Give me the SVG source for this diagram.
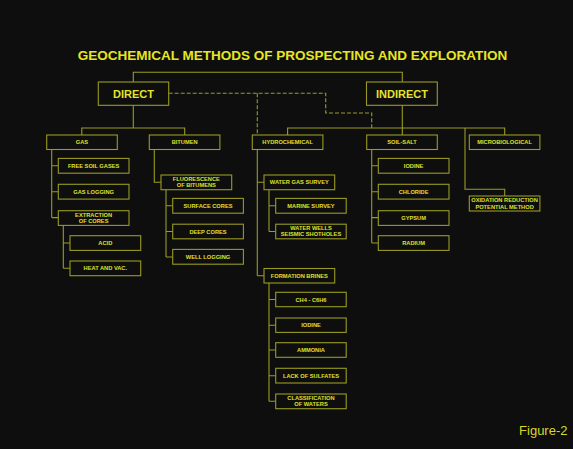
<svg xmlns="http://www.w3.org/2000/svg" width="573" height="449" viewBox="0 0 573 449">
<style>
.bx{fill:#0e0e0e;stroke:#9a9a24;stroke-width:1.1}
.ln{fill:none;stroke:#9a9a24;stroke-width:1.1}
.ds{fill:none;stroke:#9a9a24;stroke-width:1.1;stroke-dasharray:4 2}
.t{font-family:"Liberation Sans",Arial,sans-serif;font-weight:bold;font-size:5.7px;fill:#e0e02a;text-anchor:middle}
.big{font-family:"Liberation Sans",Arial,sans-serif;font-weight:bold;font-size:11px;fill:#e4e42a;text-anchor:middle}
</style>
<rect width="573" height="449" fill="#0e0e0e"/>
<text x="292.5" y="60" font-family="Liberation Sans, Arial, sans-serif" font-weight="bold" font-size="13.5" fill="#e6e622" text-anchor="middle">GEOCHEMICAL METHODS OF PROSPECTING AND EXPLORATION</text>
<text x="567.5" y="435" font-family="Liberation Sans, Arial, sans-serif" font-size="13" fill="#d8d82a" text-anchor="end">Figure-2</text>

<g id="connectors">
<path class="ln" d="M133.3,82 V72.3 H402.3 V82"/>
<path class="ln" d="M133.3,105.3 V128 M81.8,135 V128 H184.7 V135"/>
<path class="ln" d="M402.3,105.3 V135 M287.6,135 V128 H504.7 V135 M465,128 V189.3 H504.7 V196"/>
<path class="ds" d="M168.7,93.3 H325.7 V113 H371.7 V128"/>
<path class="ds" d="M257.3,93.3 V135"/>
<!-- GAS -->
<path class="ln" d="M51.7,149.5 V217.6 M51.7,165.8 H58.3 M51.7,191.7 H58.3 M51.7,217.6 H58.3"/>
<path class="ln" d="M63.3,225.4 V268.3 M63.3,243 H70 M63.3,268.3 H70"/>
<!-- BITUMEN -->
<path class="ln" d="M154.3,149.5 V182.3 H161"/>
<path class="ln" d="M166,189.7 V257 M166,205.8 H172.7 M166,231.5 H172.7 M166,257 H172.7"/>
<!-- HYDRO -->
<path class="ln" d="M257.3,149.5 V275.7 M257.3,182.3 H264 M257.3,275.7 H264"/>
<path class="ln" d="M269,189.7 V231.5 M269,205.8 H275.7 M269,231.5 H275.7"/>
<path class="ln" d="M269,283 V401.3 M269,299.5 H275.7 M269,325.2 H275.7 M269,350 H275.7 M269,375.7 H275.7 M269,401.3 H275.7"/>
<!-- SOIL-SALT -->
<path class="ln" d="M371.7,149.5 V243 M371.7,165.8 H378.3 M371.7,191.7 H378.3 M371.7,217.6 H378.3 M371.7,243 H378.3"/>
</g>

<g id="direct"><rect class="bx" x="98.3" y="82" width="70.4" height="23.3"/><text class="big" x="133.5" y="97.5">DIRECT</text></g>
<g id="indirect"><rect class="bx" x="366.5" y="82" width="70.8" height="23.3"/><text class="big" x="402" y="97.5">INDIRECT</text></g>

<g id="gas"><rect class="bx" x="46.7" y="135" width="70.6" height="14.5"/><text class="t" x="82" y="144.3">GAS</text></g>
<g id="bitumen"><rect class="bx" x="149.3" y="135" width="70.6" height="14.5"/><text class="t" x="184.6" y="144.3">BITUMEN</text></g>
<g id="hydrochemical"><rect class="bx" x="252.3" y="135" width="70.6" height="14.5"/><text class="t" x="287.6" y="144.3">HYDROCHEMICAL</text></g>
<g id="soil-salt"><rect class="bx" x="366.7" y="135" width="70.6" height="14.5"/><text class="t" x="402" y="144.3">SOIL-SALT</text></g>
<g id="microbiological"><rect class="bx" x="469.3" y="135" width="70.6" height="14.5"/><text class="t" x="504.6" y="144.3">MICROBIOLOGICAL</text></g>

<g id="free-soil-gases"><rect class="bx" x="58.3" y="158.4" width="70.7" height="14.8"/><text class="t" x="93.6" y="167.8">FREE SOIL GASES</text></g>
<g id="gas-logging"><rect class="bx" x="58.3" y="184.3" width="70.7" height="14.8"/><text class="t" x="93.6" y="193.7">GAS LOGGING</text></g>
<g id="extraction"><rect class="bx" x="58.3" y="210.7" width="70.7" height="14.7"/><text class="t" x="93.6" y="217">EXTRACTION</text><text class="t" x="93.6" y="223">OF CORES</text></g>
<g id="acid"><rect class="bx" x="70" y="235.7" width="70.7" height="14.7"/><text class="t" x="105.3" y="245">ACID</text></g>
<g id="heat"><rect class="bx" x="70" y="261" width="70.7" height="14.7"/><text class="t" x="105.3" y="270.4">HEAT AND VAC.</text></g>

<g id="fluorescence"><rect class="bx" x="161" y="175" width="70.7" height="14.7"/><text class="t" x="196.3" y="181.3">FLUORESCENCE</text><text class="t" x="196.3" y="187.3">OF BITUMENS</text></g>
<g id="surface-cores"><rect class="bx" x="172.7" y="198.4" width="70.7" height="14.8"/><text class="t" x="208" y="207.8">SURFACE CORES</text></g>
<g id="deep-cores"><rect class="bx" x="172.7" y="224.2" width="70.7" height="14.6"/><text class="t" x="208" y="233.5">DEEP CORES</text></g>
<g id="well-logging"><rect class="bx" x="172.7" y="249.4" width="70.7" height="14.8"/><text class="t" x="208" y="258.8">WELL LOGGING</text></g>

<g id="water-gas-survey"><rect class="bx" x="264" y="175" width="70.7" height="14.7"/><text class="t" x="299.3" y="184.3">WATER GAS SURVEY</text></g>
<g id="marine-survey"><rect class="bx" x="275.7" y="198.4" width="70.5" height="14.8"/><text class="t" x="311" y="207.8">MARINE SURVEY</text></g>
<g id="water-wells"><rect class="bx" x="275.7" y="224.2" width="70.5" height="14.6"/><text class="t" x="311" y="230.3">WATER WELLS</text><text class="t" x="311" y="236.3">SEISMIC SHOTHOLES</text></g>
<g id="formation-brines"><rect class="bx" x="264" y="268.5" width="70.7" height="14.5"/><text class="t" x="299.3" y="277.8">FORMATION BRINES</text></g>
<g id="ch4"><rect class="bx" x="275.7" y="292.3" width="70.5" height="14.4"/><text class="t" x="311" y="301.5">CH4 - C6H6</text></g>
<g id="iodine-2"><rect class="bx" x="275.7" y="318" width="70.5" height="14.4"/><text class="t" x="311" y="327.2">IODINE</text></g>
<g id="ammonia"><rect class="bx" x="275.7" y="342.7" width="70.5" height="14.6"/><text class="t" x="311" y="352">AMMONIA</text></g>
<g id="lack-of-sulfates"><rect class="bx" x="275.7" y="368.3" width="70.5" height="14.7"/><text class="t" x="311" y="377.7">LACK OF SULFATES</text></g>
<g id="classification"><rect class="bx" x="275.7" y="394" width="70.5" height="14.7"/><text class="t" x="311" y="400.3">CLASSIFICATION</text><text class="t" x="311" y="406.3">OF WATERS</text></g>

<g id="iodine-1"><rect class="bx" x="378.3" y="158.4" width="70.7" height="14.8"/><text class="t" x="413.6" y="167.8">IODINE</text></g>
<g id="chloride"><rect class="bx" x="378.3" y="184.3" width="70.7" height="14.8"/><text class="t" x="413.6" y="193.7">CHLORIDE</text></g>
<g id="gypsum"><rect class="bx" x="378.3" y="210.7" width="70.7" height="14.7"/><text class="t" x="413.6" y="220">GYPSUM</text></g>
<g id="radium"><rect class="bx" x="378.3" y="235.7" width="70.7" height="14.7"/><text class="t" x="413.6" y="245">RADIUM</text></g>

<g id="oxidation"><rect class="bx" x="469.3" y="196" width="70.6" height="15"/><text class="t" x="504.6" y="202.4">OXIDATION REDUCTION</text><text class="t" x="504.6" y="208.6">POTENTIAL METHOD</text></g>
</svg>
